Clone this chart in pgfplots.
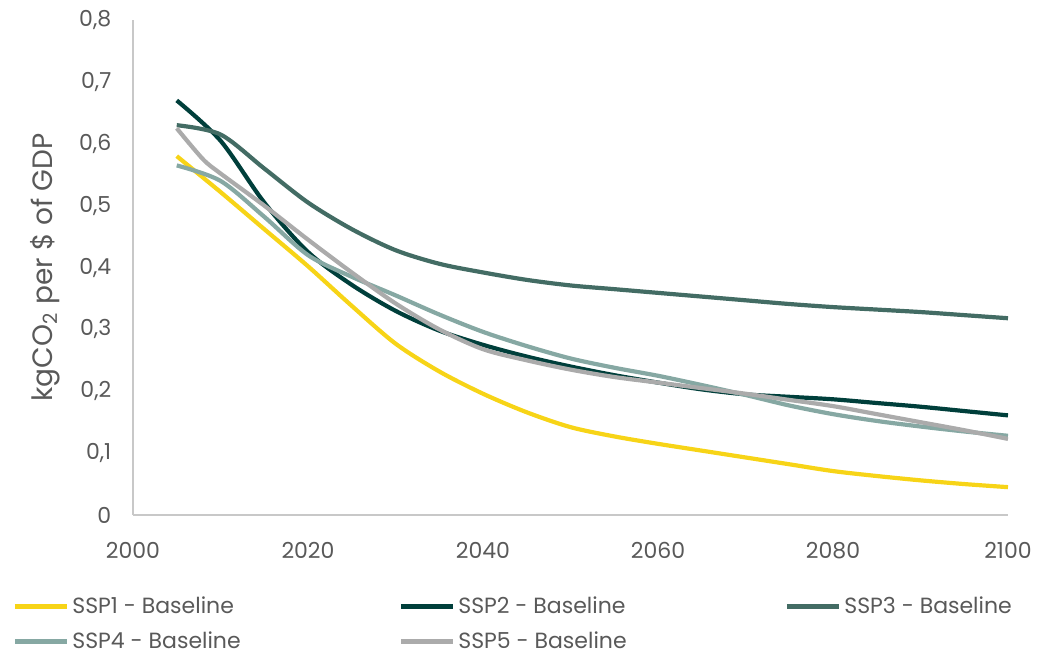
\documentclass[border=0pt]{standalone}
\usepackage{fontspec}
\setmainfont{Poppins}
\usepackage{pgfplots}
\pgfplotsset{compat=1.18}
\definecolor{sspone}{HTML}{F7D417}
\definecolor{ssptwo}{HTML}{003F3B}
\definecolor{sspthree}{HTML}{436C64}
\definecolor{sspfour}{HTML}{86A8A3}
\definecolor{sspfive}{HTML}{ABABAB}
\definecolor{txt}{HTML}{595959}
\definecolor{axl}{HTML}{C8C8C8}
\begin{document}
\fontsize{11}{13}\selectfont
\begin{tikzpicture}
\useasboundingbox (-66.5pt,-69pt) rectangle (464pt,257.5pt);
\begin{axis}[
  at={(0,0)}, anchor=south west,
  scale only axis, width=437.5pt, height=247.5pt,
  xmin=2000, xmax=2100, ymin=0, ymax=0.8,
  xtick={2000,2020,...,2100}, ytick={0,0.1,...,0.8},
  axis lines*=left,
  axis line style={axl, line width=1pt, -},
  major tick length=0pt,
  tick label style={txt, font=\fontsize{11}{13}\selectfont},
  /pgf/number format/assume math mode=true,
  /pgf/number format/use comma,
  /pgf/number format/1000 sep={},
  /pgf/number format/fixed,
  /pgf/number format/precision=1,
  yticklabel style={xshift=-7pt},
  xticklabel style={yshift=-10pt},
  ylabel={kgCO\textsubscript{2} per \$ of GDP},
  ylabel style={txt, font=\fontsize{14}{16}\selectfont, yshift=2pt},
  legend columns=3,
  legend cell align=left,
  legend style={at={(0,0)}, anchor=north west, xshift=-60.5pt, yshift=-40.5pt,
    draw=none, fill=none, inner sep=0pt, row sep=7.5pt,
    nodes={inner sep=0pt, text=txt, font=\fontsize{11}{13}\selectfont},
    /tikz/every odd column/.append style={column sep=1.5pt}},
  legend image code/.code={\draw[#1, line width=2.5pt] (0pt,0pt) -- (26pt,0pt);},
  every axis plot/.append style={line width=2.1pt, smooth, no markers},
]
\addplot[sspone] coordinates {(2005,0.580)(2010,0.522)(2015,0.462)(2020,0.402)(2025,0.338)(2030,0.277)(2035,0.232)(2040,0.196)(2045,0.166)(2050,0.142)(2055,0.127)(2060,0.115)(2065,0.104)(2070,0.093)(2075,0.082)(2080,0.071)(2085,0.063)(2090,0.056)(2095,0.050)(2100,0.045)};
\addlegendentry{\makebox[163pt][l]{SSP1 - Baseline}}
\addplot[ssptwo] coordinates {(2005,0.670)(2010,0.605)(2015,0.505)(2020,0.425)(2025,0.372)(2030,0.330)(2035,0.298)(2040,0.275)(2045,0.256)(2050,0.240)(2055,0.226)(2060,0.214)(2065,0.203)(2070,0.195)(2075,0.191)(2080,0.187)(2085,0.181)(2090,0.175)(2095,0.168)(2100,0.161)};
\addlegendentry{\makebox[163pt][l]{SSP2 - Baseline}}
\addplot[sspthree] coordinates {(2005,0.630)(2010,0.615)(2015,0.560)(2020,0.505)(2025,0.462)(2030,0.428)(2035,0.406)(2040,0.392)(2045,0.380)(2050,0.371)(2055,0.365)(2060,0.359)(2065,0.353)(2070,0.347)(2075,0.341)(2080,0.336)(2085,0.332)(2090,0.328)(2095,0.323)(2100,0.318)};
\addlegendentry{SSP3 - Baseline}
\addplot[sspfour] coordinates {(2005,0.565)(2010,0.540)(2015,0.482)(2020,0.420)(2025,0.385)(2030,0.355)(2035,0.324)(2040,0.296)(2045,0.273)(2050,0.253)(2055,0.238)(2060,0.225)(2065,0.210)(2070,0.194)(2075,0.177)(2080,0.163)(2085,0.152)(2090,0.143)(2095,0.135)(2100,0.128)};
\addlegendentry{\makebox[163pt][l]{SSP4 - Baseline}}
\addplot[sspfive] coordinates {(2005,0.625)(2008,0.575)(2010,0.552)(2015,0.500)(2020,0.445)(2025,0.392)(2030,0.342)(2035,0.300)(2040,0.268)(2045,0.250)(2050,0.235)(2055,0.223)(2060,0.214)(2065,0.205)(2070,0.196)(2075,0.186)(2080,0.176)(2085,0.163)(2090,0.150)(2095,0.137)(2100,0.123)};
\addlegendentry{\makebox[163pt][l]{SSP5 - Baseline}}
\end{axis}
\end{tikzpicture}
\end{document}
